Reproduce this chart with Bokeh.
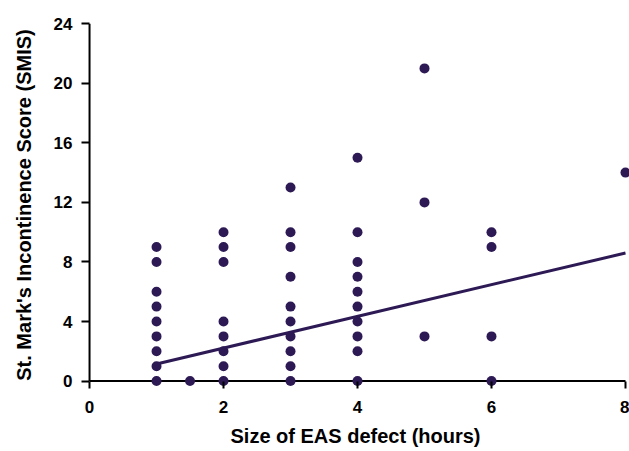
from bokeh.plotting import figure
from bokeh.models import Range1d, FixedTicker
from bokeh.embed import file_html
from bokeh.resources import INLINE

# Data
defect_hours = [1]*9 + [1.5] + [2]*8 + [3]*10 + [4]*10 + [5]*3 + [6]*4 + [8]
smis_score = ([0, 1, 2, 3, 4, 5, 6, 8, 9] + [0] +
              [0, 1, 2, 3, 4, 8, 9, 10] +
              [0, 1, 2, 3, 4, 5, 7, 9, 10, 13] +
              [0, 2, 3, 4, 5, 6, 7, 8, 10, 15] +
              [3, 12, 21] +
              [0, 3, 9, 10] +
              [14])
fit_x = [1, 8]
fit_y = [1.15, 8.6]
x_ticks = [0, 2, 4, 6, 8]
y_ticks = [0, 4, 8, 12, 16, 20, 24]
x_min, x_max = 0, 8
y_min, y_max = 0, 24

COL = "#2D1A55"
FONT = "Liberation Sans"

p = figure(width=629, height=451, output_backend="svg", toolbar_location=None,
           x_range=Range1d(-0.12, 8.06), y_range=Range1d(-0.5, 24.15),
           min_border_left=81, min_border_right=0, min_border_top=21, min_border_bottom=63)
p.outline_line_color = None
p.grid.grid_line_color = None
p.background_fill_color = "white"

# axis lines as glyphs (spanning exactly the data extent)
p.segment(x0=[x_min, x_min], y0=[y_min, y_min], x1=[x_max, x_min], y1=[y_min, y_max],
          line_color="black", line_width=2)
p.line(fit_x, fit_y, line_color=COL, line_width=3)
p.scatter(defect_hours, smis_score, size=10, fill_color=COL, line_color=COL, line_width=0)

for ax in (p.xaxis[0], p.yaxis[0]):
    ax.axis_line_color = None
    ax.major_tick_line_width = 2
    ax.major_tick_line_color = "black"
    ax.major_tick_out = 0
    ax.minor_tick_line_color = None
    ax.major_label_text_font = FONT
    ax.major_label_text_font_style = "bold"
    ax.major_label_text_font_size = "17px"
    ax.major_label_text_color = "black"
    ax.axis_label_text_font = FONT
    ax.axis_label_text_font_style = "bold"
    ax.axis_label_text_font_size = "20px"
    ax.axis_label_text_color = "black"

p.xaxis.major_tick_in = 7
p.yaxis.major_tick_in = 8
p.xaxis.ticker = FixedTicker(ticks=x_ticks)
p.yaxis.ticker = FixedTicker(ticks=y_ticks)
p.xaxis.axis_label = "Size of EAS defect (hours)"
p.yaxis.axis_label = "St. Mark's Incontinence Score (SMIS)"
p.xaxis.major_label_standoff = 12
p.yaxis.major_label_standoff = 9
p.xaxis.axis_label_standoff = 9
p.yaxis.axis_label_standoff = 16

open("out.html", "w").write(file_html(p, INLINE))
